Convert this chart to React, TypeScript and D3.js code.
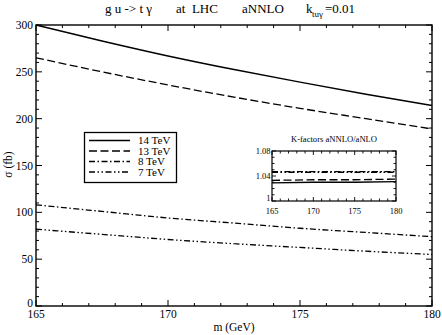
import * as d3 from "d3";

// main plot data (sigma in fb vs top mass in GeV)
const masses = [165, 167.5, 170, 172.5, 175, 177.5, 180];
const sigma14 = [300, 283, 267, 252.5, 239, 226, 214];
const sigma13 = [265, 250, 236, 223, 211, 200, 189];
const sigma8 = [108, 101, 94, 88.5, 83, 78.5, 74];
const sigma7 = [82, 76.5, 71, 66.5, 62.5, 58.5, 55];

// inset: K-factors aNNLO/aNLO
const kMasses = [165, 170, 175, 180];
const k14 = [1.029, 1.030, 1.030, 1.031];
const k13 = [1.033, 1.034, 1.034, 1.035];
const k8 = [1.047, 1.047, 1.047, 1.047];
const k7 = [1.046, 1.046, 1.046, 1.046];

const xMajor = [165, 170, 175, 180];
const yMajor = [0, 50, 100, 150, 200, 250, 300];
const kMajor = [1, 1.04, 1.08];
const kLabels = ["1", "1.04", "1.08"];

const seriesNames = ["14 TeV", "13 TeV", "8 TeV", "7 TeV"];
const dashes = ["none", "8,3.5", "6,2.5,1.5,2.5", "6,2.5,1.5,2.5,1.5,2.5"];

const font = "'Liberation Serif', 'Times New Roman', serif";

const App = () => {
  const W = 442;
  const H = 335;
  const m = { left: 36, right: 432, top: 25, bottom: 306 };

  const x = d3.scaleLinear().domain([165, 180]).range([m.left, m.right]);
  const y = d3.scaleLinear().domain([0, 300]).range([m.bottom, m.top]);

  const ins = { left: 272, right: 396, top: 151, bottom: 201 };
  const ix = d3.scaleLinear().domain([165, 180]).range([ins.left, ins.right]);
  const iy = d3.scaleLinear().domain([1, 1.08]).range([ins.bottom, ins.top]);

  const line = d3
    .line<number>()
    .x((_, i) => x(masses[i]))
    .y((d) => y(d))
    .curve(d3.curveMonotoneX);

  const kLine = d3
    .line<number>()
    .x((_, i) => ix(kMasses[i]))
    .y((d) => iy(d));

  const mainSeries = [sigma14, sigma13, sigma8, sigma7];
  const kSeries = [k14, k13, k8, k7];

  const xMinor = d3.range(165, 181, 1);
  const yMinor = d3.range(0, 301, 10);
  const kMinor = d3.range(0, 9).map((i) => 1 + i * 0.01);

  return (
    <svg
      width={W}
      height={H}
      style={{ position: "absolute", left: 0, top: 0, background: "#fff" }}
      fontFamily={font}
    >
      {/* title */}
      <text y={12.5} fontSize={13} fill="#000" style={{ whiteSpace: "pre" }}>
        <tspan x={105}>g u -&gt; t γ</tspan>
        <tspan x={176}>at  LHC</tspan>
        <tspan x={242}>aNNLO</tspan>
        <tspan x={306}>k</tspan>
        <tspan x={312} dy={4} fontSize={9}>tuγ</tspan>
        <tspan x={325} dy={-4}>=0.01</tspan>
      </text>

      {/* main ticks: bottom & top */}
      {xMinor.map((v) => {
        const len = xMajor.includes(v) ? 6 : 3;
        return (
          <g key={"xt" + v} stroke="#000" strokeWidth={1}>
            <line x1={x(v)} x2={x(v)} y1={m.bottom} y2={m.bottom - len} />
            <line x1={x(v)} x2={x(v)} y1={m.top} y2={m.top + len} />
          </g>
        );
      })}
      {/* main ticks: left & right */}
      {yMinor.map((v) => {
        const len = yMajor.includes(v) ? 6 : 3;
        return (
          <g key={"yt" + v} stroke="#000" strokeWidth={1}>
            <line x1={m.left} x2={m.left + len} y1={y(v)} y2={y(v)} />
            <line x1={m.right} x2={m.right - len} y1={y(v)} y2={y(v)} />
          </g>
        );
      })}

      {/* frame */}
      <rect
        x={m.left}
        y={m.top}
        width={m.right - m.left}
        height={m.bottom - m.top}
        fill="none"
        stroke="#000"
        strokeWidth={1.4}
      />

      {/* tick labels */}
      {xMajor.map((v) => (
        <text key={"xl" + v} x={x(v)} y={318} fontSize={11.5} textAnchor="middle">
          {v}
        </text>
      ))}
      {yMajor.map((v) => (
        <text
          key={"yl" + v}
          x={m.left - 3}
          y={y(v) + (v === 0 ? 1 : 4)}
          fontSize={11.5}
          textAnchor="end"
        >
          {v}
        </text>
      ))}

      {/* axis titles */}
      <text x={(m.left + m.right) / 2} y={331} fontSize={11.5} textAnchor="middle">
        m (GeV)
      </text>
      <text
        transform={`translate(12,${(m.top + m.bottom) / 2 - 1}) rotate(-90)`}
        fontSize={11.5}
        textAnchor="middle"
      >
        σ (fb)
      </text>

      {/* curves */}
      {mainSeries.map((s, i) => (
        <path
          key={"s" + i}
          d={line(s) || ""}
          fill="none"
          stroke="#000"
          strokeWidth={i === 0 ? 1.5 : 1.3}
          strokeDasharray={dashes[i]}
        />
      ))}

      {/* legend */}
      <rect x={84.5} y={132.5} width={92} height={50} fill="#fff" stroke="#000" strokeWidth={1.3} />
      {seriesNames.map((name, i) => {
        const ly = 140.5 + i * 10.5;
        return (
          <g key={"lg" + i}>
            <line
              x1={89}
              x2={130}
              y1={ly}
              y2={ly}
              stroke="#000"
              strokeWidth={i === 0 ? 1.5 : 1.3}
              strokeDasharray={dashes[i]}
            />
            <text x={138} y={ly + 3.5} fontSize={11}>
              {name}
            </text>
          </g>
        );
      })}

      {/* inset */}
      <text x={(ins.left + ins.right) / 2} y={142} fontSize={8.6} textAnchor="middle">
        K-factors aNNLO/aNLO
      </text>
      {xMinor.map((v) => {
        const len = xMajor.includes(v) ? 4 : 2.5;
        return (
          <g key={"ixt" + v} stroke="#000" strokeWidth={0.9}>
            <line x1={ix(v)} x2={ix(v)} y1={ins.bottom} y2={ins.bottom - len} />
            <line x1={ix(v)} x2={ix(v)} y1={ins.top} y2={ins.top + len} />
          </g>
        );
      })}
      {kMinor.map((v, i) => {
        const len = i % 4 === 0 ? 4 : 2.5;
        return (
          <g key={"iyt" + i} stroke="#000" strokeWidth={0.9}>
            <line x1={ins.left} x2={ins.left + len} y1={iy(v)} y2={iy(v)} />
            <line x1={ins.right} x2={ins.right - len} y1={iy(v)} y2={iy(v)} />
          </g>
        );
      })}
      <rect
        x={ins.left}
        y={ins.top}
        width={ins.right - ins.left}
        height={ins.bottom - ins.top}
        fill="none"
        stroke="#000"
        strokeWidth={1.2}
      />
      {kSeries.map((s, i) => (
        <path
          key={"k" + i}
          d={kLine(s) || ""}
          fill="none"
          stroke="#000"
          strokeWidth={i === 0 ? 1.5 : 1.3}
          strokeDasharray={dashes[i]}
        />
      ))}
      {xMajor.map((v) => (
        <text key={"ixl" + v} x={ix(v)} y={214} fontSize={8.5} textAnchor="middle">
          {v}
        </text>
      ))}
      {kMajor.map((v, i) => (
        <text
          key={"iyl" + i}
          x={ins.left - 1.5}
          y={iy(v) + (i === 0 ? 0 : 3)}
          fontSize={8.5}
          textAnchor="end"
        >
          {kLabels[i]}
        </text>
      ))}
    </svg>
  );
};

export default App;
